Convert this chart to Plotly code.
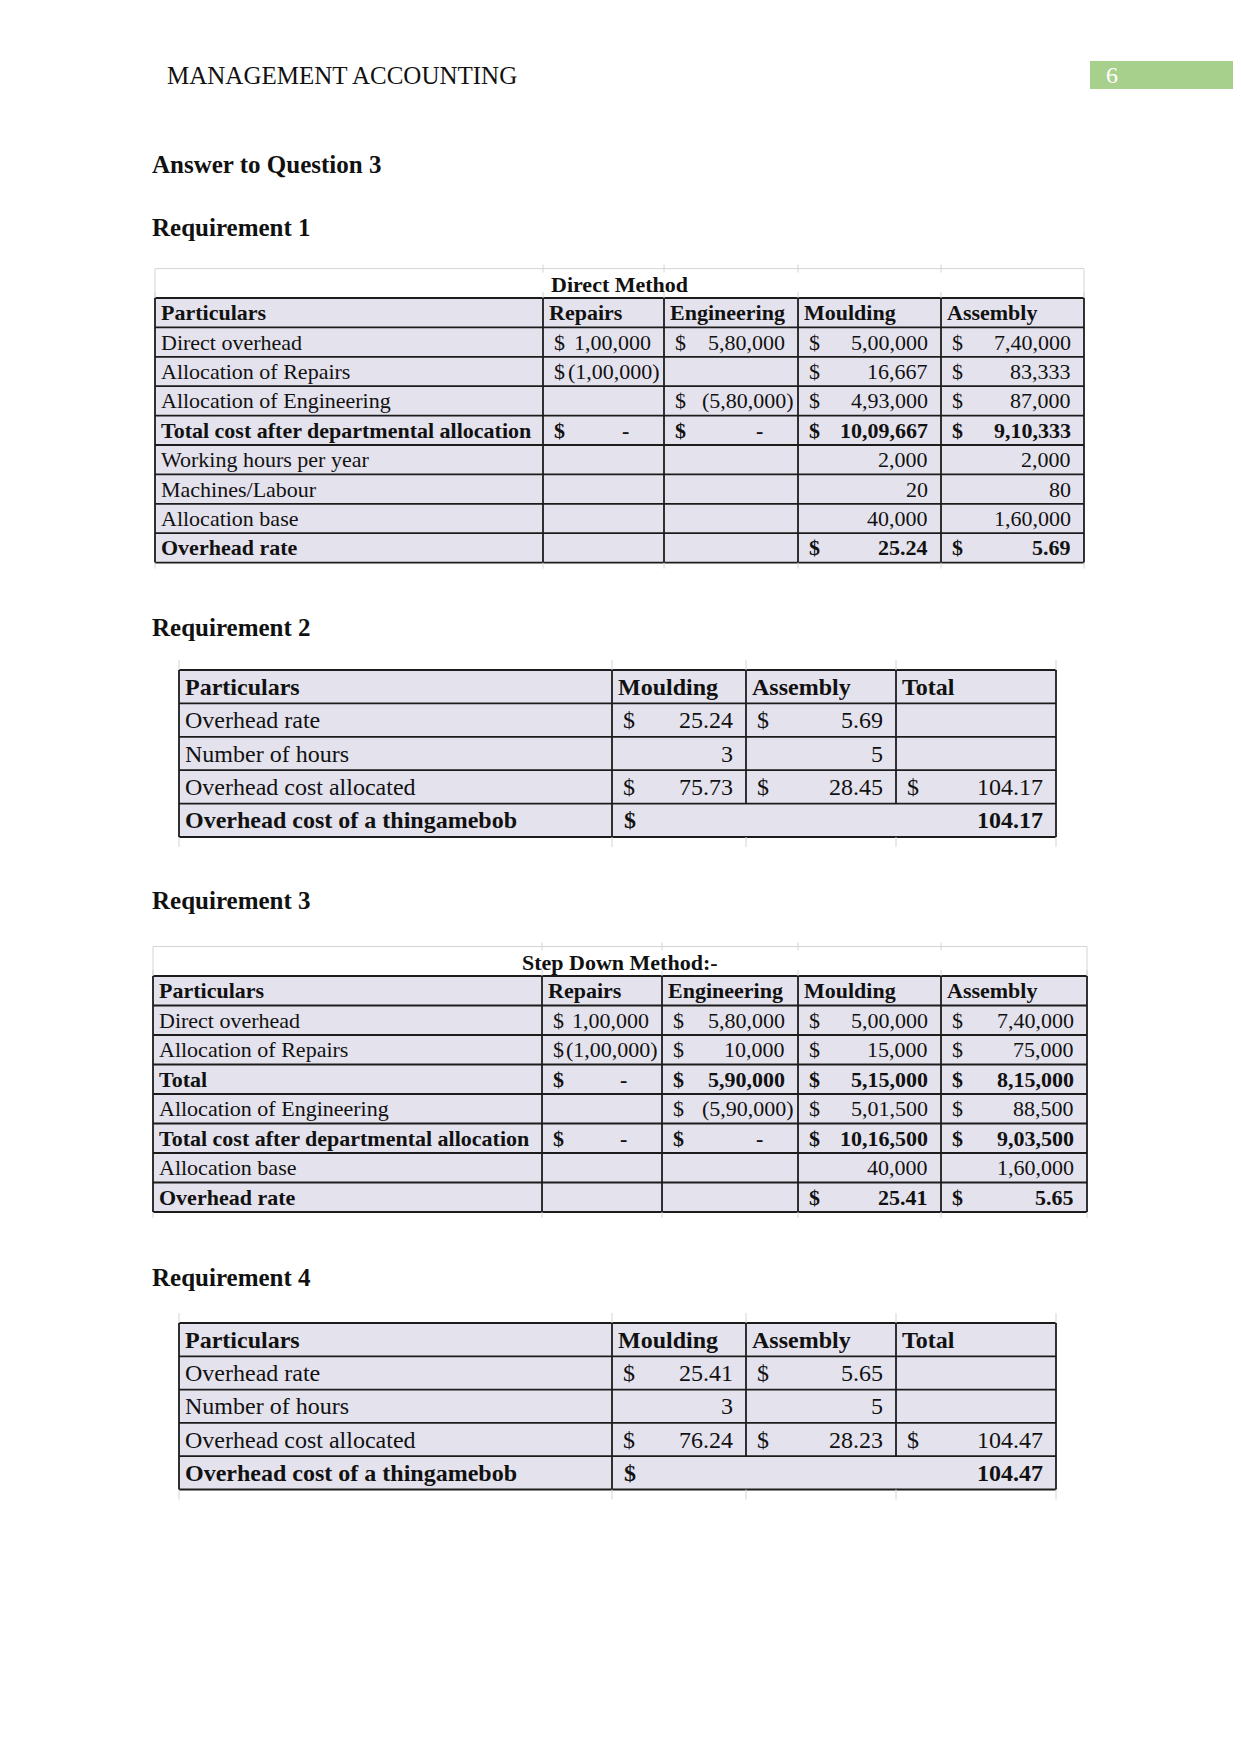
import plotly.graph_objects as go

# ---------------- DATA ----------------
PAGE_HEADER = "MANAGEMENT ACCOUNTING"
PAGE_NUMBER = "6"
SECTION_TITLE = "Answer to Question 3"
REQ_TITLES = ["Requirement 1", "Requirement 2", "Requirement 3", "Requirement 4"]

# Requirement 1 - Direct Method
T1_TITLE = "Direct Method"
T1_COLUMNS = ["Particulars", "Repairs", "Engineering", "Moulding", "Assembly"]
T1_ROWS = ["Direct overhead", "Allocation of Repairs", "Allocation of Engineering",
           "Total cost after departmental allocation", "Working hours per year",
           "Machines/Labour", "Allocation base", "Overhead rate"]
T1_REPAIRS = [100000, -100000, None, 0, None, None, None, None]
T1_ENGINEERING = [580000, None, -580000, 0, None, None, None, None]
T1_MOULDING = [500000, 16667, 493000, 1009667, 2000, 20, 40000, 25.24]
T1_ASSEMBLY = [740000, 83333, 87000, 910333, 2000, 80, 160000, 5.69]
T1_CURRENCY_ROWS = ["Direct overhead", "Allocation of Repairs", "Allocation of Engineering",
                    "Total cost after departmental allocation", "Overhead rate"]
T1_TOTAL_ROWS = ["Total cost after departmental allocation", "Overhead rate"]

# Requirement 2
T2_COLUMNS = ["Particulars", "Moulding", "Assembly", "Total"]
T2_ROWS = ["Overhead rate", "Number of hours", "Overhead cost allocated"]
T2_MOULDING = [25.24, 3, 75.73]
T2_ASSEMBLY = [5.69, 5, 28.45]
T2_TOTAL = [None, None, 104.17]
T2_CURRENCY_ROWS = ["Overhead rate", "Overhead cost allocated"]
T2_FINAL_LABEL = "Overhead cost of a thingamebob"
T2_FINAL_VALUE = 104.17

# Requirement 3 - Step Down Method
T3_TITLE = "Step Down Method:-"
T3_COLUMNS = ["Particulars", "Repairs", "Engineering", "Moulding", "Assembly"]
T3_ROWS = ["Direct overhead", "Allocation of Repairs", "Total", "Allocation of Engineering",
           "Total cost after departmental allocation", "Allocation base", "Overhead rate"]
T3_REPAIRS = [100000, -100000, 0, None, 0, None, None]
T3_ENGINEERING = [580000, 10000, 590000, -590000, 0, None, None]
T3_MOULDING = [500000, 15000, 515000, 501500, 1016500, 40000, 25.41]
T3_ASSEMBLY = [740000, 75000, 815000, 88500, 903500, 160000, 5.65]
T3_CURRENCY_ROWS = ["Direct overhead", "Allocation of Repairs", "Total", "Allocation of Engineering",
                    "Total cost after departmental allocation", "Overhead rate"]
T3_TOTAL_ROWS = ["Total", "Total cost after departmental allocation", "Overhead rate"]

# Requirement 4
T4_COLUMNS = ["Particulars", "Moulding", "Assembly", "Total"]
T4_ROWS = ["Overhead rate", "Number of hours", "Overhead cost allocated"]
T4_MOULDING = [25.41, 3, 76.24]
T4_ASSEMBLY = [5.65, 5, 28.23]
T4_TOTAL = [None, None, 104.47]
T4_CURRENCY_ROWS = ["Overhead rate", "Overhead cost allocated"]
T4_FINAL_LABEL = "Overhead cost of a thingamebob"
T4_FINAL_VALUE = 104.47

# ---------------- LAYOUT / STYLE ----------------
PAGE_W, PAGE_H = 1241, 1754
BODY_MARGIN = 8  # default page margin around the plot div
FONT = "Liberation Serif"
INK = "#111111"
CELL_BG = "#E4E2ED"
BORDER = "#1c1c1c"
FAINT = "#d4d4d4"
GREEN = "#A8D08D"

shapes = []
annotations = []


def text(x, y, s, size, bold=False, anchor="left", color=INK):
    if bold:
        s = "<b>" + s + "</b>"
    annotations.append(dict(x=x, y=y, xref="x", yref="y", text=s, showarrow=False,
                            xanchor=anchor, yanchor="middle",
                            font=dict(family=FONT, size=size, color=color)))


def line(x0, y0, x1, y1, color=BORDER, width=1.8):
    shapes.append(dict(type="line", xref="x", yref="y", x0=x0, y0=y0, x1=x1, y1=y1,
                       line=dict(color=color, width=width)))


def rect(x0, y0, x1, y1, fill):
    shapes.append(dict(type="rect", xref="x", yref="y", x0=x0, y0=y0, x1=x1, y1=y1,
                       fillcolor=fill, line=dict(width=0), layer="below"))


def indian(n):
    s = str(int(n))
    if len(s) <= 3:
        return s
    last3, rest = s[-3:], s[:-3]
    groups = []
    while len(rest) > 2:
        groups.insert(0, rest[-2:])
        rest = rest[:-2]
    if rest:
        groups.insert(0, rest)
    return ",".join(groups) + "," + last3


def fmt(v):
    a = abs(v)
    body = indian(a) if float(a).is_integer() else f"{a:.2f}"
    return f"({body})" if v < 0 else body


def value_cell(x0, x1, yc, v, currency, bold, size, pad=11):
    if v is None:
        return
    if currency:
        text(x0 + pad - 2, yc, "$", size, bold, "left")
    if v == 0:
        text(x1 - pad - 22, yc, "-", size, bold, "right")
    elif v < 0:
        text(x1 - 2, yc, fmt(v), size, bold, "right")
    else:
        text(x1 - pad, yc, fmt(v), size, bold, "right")


def faint_ticks(xs, y_top, y_bot, ext=10):
    for x in xs:
        line(x, y_top - ext, x, y_top, FAINT, 1)
        line(x, y_bot, x, y_bot + ext, FAINT, 1)


def method_table(xs, top, rh, title, columns, rows, series, currency_rows, total_rows, size):
    title_top = top - rh
    line(xs[0], title_top, xs[-1], title_top, FAINT, 1)
    line(xs[0], title_top, xs[0], top, FAINT, 1)
    line(xs[-1], title_top, xs[-1], top, FAINT, 1)
    for x in xs[1:-1]:
        line(x, title_top - 4, x, title_top + 4, FAINT, 1)
    text((xs[0] + xs[-1]) / 2, title_top + rh / 2 + 1, title, size, True, "center")
    n = len(rows) + 1
    bottom = top + n * rh
    rect(xs[0], top, xs[-1], bottom, CELL_BG)
    for j, c in enumerate(columns):
        text(xs[j] + 4, top + rh / 2, c, size, True, "left")
    for i, r in enumerate(rows):
        yc = top + (i + 1.5) * rh
        bold = r in total_rows
        text(xs[0] + 4, yc, r, size, bold, "left")
        for j, col in enumerate(series):
            value_cell(xs[j + 1], xs[j + 2], yc, col[i], r in currency_rows, bold, size)
    for i in range(n + 1):
        line(xs[0], top + i * rh, xs[-1], top + i * rh)
    for x in xs:
        line(x, top, x, bottom)
    faint_ticks(xs, top, bottom, 6)


def summary_table(xs, top, rh, columns, rows, series, currency_rows, final_label, final_value, size):
    n = len(rows) + 2
    bottom = top + n * rh
    rect(xs[0], top, xs[-1], bottom, CELL_BG)
    for j, c in enumerate(columns):
        text(xs[j] + 4, top + rh / 2, c, size, True, "left")
    for i, r in enumerate(rows):
        yc = top + (i + 1.5) * rh
        text(xs[0] + 4, yc, r, size, False, "left")
        for j, col in enumerate(series):
            value_cell(xs[j + 1], xs[j + 2], yc, col[i], r in currency_rows, False, size)
    yc = top + (n - 0.5) * rh
    text(xs[0] + 4, yc, final_label, size, True, "left")
    text(xs[1] + 10, yc, "$", size, True, "left")
    text(xs[-1] - 11, yc, fmt(final_value), size, True, "right")
    for i in range(n + 1):
        line(xs[0], top + i * rh, xs[-1], top + i * rh)
    for k, x in enumerate(xs):
        y_end = bottom if (k in (0, 1, len(xs) - 1)) else bottom - rh
        line(x, top, x, y_end)
    faint_ticks(xs, top, bottom, 10)


# page header
shapes.append(dict(type="rect", xref="x", yref="y", x0=1090, y0=61, x1=1240, y1=89,
                   fillcolor=GREEN, line=dict(width=0)))
text(165, 75, PAGE_HEADER, 25)
text(1104, 75, PAGE_NUMBER, 24, False, "left", "white")

text(150, 164, SECTION_TITLE, 25, True)
text(150, 227, REQ_TITLES[0], 25, True)
text(150, 627, REQ_TITLES[1], 25, True)
text(150, 900, REQ_TITLES[2], 25, True)
text(150, 1277, REQ_TITLES[3], 25, True)

method_table([155, 543, 664, 798, 941, 1084], 298, 29.4, T1_TITLE, T1_COLUMNS, T1_ROWS,
             [T1_REPAIRS, T1_ENGINEERING, T1_MOULDING, T1_ASSEMBLY],
             T1_CURRENCY_ROWS, T1_TOTAL_ROWS, 22)

summary_table([179, 612, 746, 896, 1056], 670, 33.4, T2_COLUMNS, T2_ROWS,
              [T2_MOULDING, T2_ASSEMBLY, T2_TOTAL], T2_CURRENCY_ROWS,
              T2_FINAL_LABEL, T2_FINAL_VALUE, 24)

method_table([153, 542, 662, 798, 941, 1087], 976, 29.5, T3_TITLE, T3_COLUMNS, T3_ROWS,
             [T3_REPAIRS, T3_ENGINEERING, T3_MOULDING, T3_ASSEMBLY],
             T3_CURRENCY_ROWS, T3_TOTAL_ROWS, 22)

summary_table([179, 612, 746, 896, 1056], 1323, 33.3, T4_COLUMNS, T4_ROWS,
              [T4_MOULDING, T4_ASSEMBLY, T4_TOTAL], T4_CURRENCY_ROWS,
              T4_FINAL_LABEL, T4_FINAL_VALUE, 24)

# The plot div sits inside the page's default 8px body margin, so the axes are
# offset to keep page coordinates aligned with the window.
fig_w = PAGE_W - 2 * BODY_MARGIN
fig_h = PAGE_H - 2 * BODY_MARGIN
x_lo, x_hi = BODY_MARGIN, BODY_MARGIN + fig_w
y_lo, y_hi = BODY_MARGIN, BODY_MARGIN + fig_h

fig = go.Figure()
fig.add_trace(go.Scatter(x=[x_lo, x_hi], y=[y_lo, y_hi], mode="markers", marker=dict(opacity=0),
                         hoverinfo="skip", showlegend=False))
fig.update_layout(
    width=fig_w, height=fig_h, margin=dict(l=0, r=0, t=0, b=0),
    paper_bgcolor="white", plot_bgcolor="white",
    xaxis=dict(range=[x_lo, x_hi], visible=False, fixedrange=True),
    yaxis=dict(range=[y_hi, y_lo], visible=False, fixedrange=True),
    shapes=shapes, annotations=annotations, showlegend=False,
)
fig.write_html("out.html")
